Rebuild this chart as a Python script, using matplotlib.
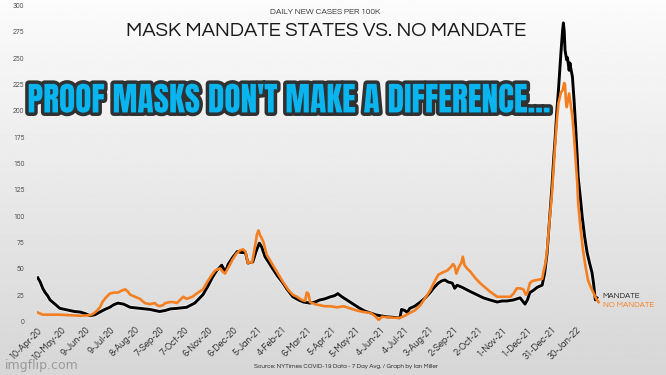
import matplotlib.pyplot as plt
import matplotlib.patheffects as pe
import numpy as np

# days since 10-Apr-20
mandate_days = [1, 4, 7, 10, 13, 16, 22, 28, 34, 40, 46, 53, 59, 65, 71, 77, 83, 89, 94, 99,
                106, 114, 120, 126, 132, 138, 144, 150, 157, 163, 171, 183, 193, 203, 209, 215,
                220, 226, 228, 230, 234, 239, 245, 250, 255, 258, 264, 268, 272, 275, 279, 284,
                288, 294, 300, 306, 313, 320, 326, 334, 340, 346, 352, 359, 364, 368, 373, 379,
                387, 395, 401, 408, 414, 420, 428, 436, 444, 446, 450, 453, 456, 462, 469, 475,
                481, 486, 491, 495, 499, 503, 508, 511, 514, 520, 525, 530, 538, 546, 554, 563,
                569, 575, 583, 591, 594, 597, 600, 603, 607, 612, 618, 621, 624, 626, 628, 630,
                632, 634, 636, 638, 639, 641, 643, 644, 645, 646, 648, 649, 651, 652, 653, 655,
                657, 659, 661, 662, 665, 667, 670, 673, 676, 679, 681, 683, 685]
mandate_vals = [41, 37, 31, 27, 24, 20, 16, 12, 11, 10, 9, 8.5, 7, 5, 6, 8.5, 11, 13, 15.5, 17,
                16, 13, 12.5, 12, 11.5, 11, 10, 9, 10, 11.5, 12, 13, 17, 25, 33, 42,
                48, 53, 50, 46, 54, 60, 66, 65, 65, 55, 56, 66, 74, 70, 61, 55,
                50, 43, 37, 30, 23, 20, 18, 17, 18, 20, 21, 23, 24, 26, 23, 20,
                16, 12, 9.5, 7.6, 6, 5, 4, 3.5, 3, 11, 10, 8, 12, 14, 18, 22,
                27, 32, 36, 38, 39, 37, 36, 31, 34, 32, 30, 28, 25, 22, 20, 18,
                19, 19, 20, 22, 19, 16, 20, 27, 29, 32, 34, 45, 64, 85, 105, 128,
                153, 175, 200, 220, 232, 255, 276, 283, 275, 257, 248, 250, 238, 245, 240, 232,
                210, 184, 155, 137, 115, 99, 80, 65, 55, 46, 35, 20, 22]

nomandate_days = [1, 4, 7, 10, 20, 28, 40, 53, 65, 69, 73, 77, 80, 84, 89, 94, 99, 104, 108, 111,
                  114, 120, 126, 132, 138, 144, 147, 150, 154, 157, 163, 167, 171, 175, 179, 183,
                  190, 197, 203, 209, 215, 218, 224, 227, 230, 235, 239, 244, 248, 252, 255, 258,
                  261, 263, 267, 269, 271, 273, 274, 277, 281, 287, 294, 301, 308, 313, 318, 324,
                  328, 330, 332, 334, 340, 346, 352, 359, 367, 375, 383, 391, 400, 408, 413, 418,
                  422, 430, 437, 444, 450, 456, 462, 469, 475, 481, 486, 491, 496, 502, 506, 509,
                  511, 513, 516, 519, 521, 523, 526, 530, 536, 542, 548, 554, 563, 571, 579, 583,
                  587, 591, 595, 598, 600, 603, 606, 612, 618, 620, 622, 624, 627, 630, 632, 634,
                  636, 638, 641, 643, 645, 646, 647, 648, 650, 651, 653, 655, 657, 659, 661, 662,
                  665, 668, 671, 674, 677, 680, 683, 685, 687]
nomandate_vals = [8, 7, 6, 6, 6, 6, 5.5, 5, 5.5, 7, 9.5, 13, 18, 22, 26, 27, 27, 29, 30, 28,
                  25, 23, 21, 17, 16, 17, 15, 14, 15, 17, 18, 18, 17, 20, 23, 21,
                  23, 27, 30, 38, 45, 48, 50, 47, 45, 52, 58, 64, 67, 68, 66, 55,
                  56, 55, 72, 82, 86, 81, 80, 75, 63, 55, 46, 37, 29, 25, 23, 20,
                  19, 27, 26, 18, 16, 15, 14, 14, 13, 14, 12, 10, 8.5, 7.6, 5, 1,
                  4, 3.5, 3, 3, 5, 7.6, 10, 15, 22, 29, 37, 44, 46, 48, 51, 54,
                  52, 45, 51, 55, 61, 53, 50, 47, 41, 36, 32, 28, 23, 23, 23, 26,
                  31, 31, 30, 25, 27, 36, 38, 39, 40, 48, 55, 67, 95, 121, 145, 169,
                  190, 207, 217, 219, 226, 224, 210, 203, 212, 216, 205, 194, 175, 153, 130, 112,
                  88, 67, 52, 39, 33, 28, 23, 20, 18]

tick_labels = ['10-Apr-20', '10-May-20', '9-Jun-20', '9-Jul-20', '8-Aug-20', '7-Sep-20',
               '7-Oct-20', '6-Nov-20', '6-Dec-20', '5-Jan-21', '4-Feb-21', '6-Mar-21',
               '5-Apr-21', '5-May-21', '4-Jun-21', '4-Jul-21', '3-Aug-21', '2-Sep-21',
               '2-Oct-21', '1-Nov-21', '1-Dec-21', '31-Dec-21', '30-Jan-22']
y_ticks = [0, 25, 50, 75, 100, 125, 150, 175, 200, 225, 250, 275, 300]

gothic = ['Questrial', 'Didact Gothic', 'Lato', 'DejaVu Sans']

fig = plt.figure(figsize=(6.66, 3.75), dpi=100)

# gradient background
bg = fig.add_axes([0, 0, 1, 1], zorder=-1)
grad = np.linspace(0.985, 0.84, 256).reshape(-1, 1)
bg.imshow(grad, aspect='auto', cmap='gray', vmin=0, vmax=1, extent=[0, 1, 0, 1])
bg.set_axis_off()

ax = fig.add_axes([37 / 666, 54 / 375, 573 / 666, 316 / 375])
ax.set_facecolor('none')
ax.plot(mandate_days, mandate_vals, color='black', lw=2.1, zorder=3,
        path_effects=[pe.Stroke(linewidth=3.3, foreground='white', alpha=0.6), pe.Normal()])
ax.plot(nomandate_days, nomandate_vals, color='#f47f20', lw=1.9, zorder=4)

ax.set_xlim(0, 701)
ax.set_ylim(0, 300)
ax.set_xticks([i * 30 for i in range(len(tick_labels))])
ax.set_xticklabels(tick_labels, rotation=45, ha='right', rotation_mode='anchor',
                   fontsize=6.6, color='#2a2a2a', family=gothic)
ax.set_yticks(y_ticks)
ax.set_yticklabels([str(v) for v in y_ticks], fontsize=5, color='#444444', family=gothic)
ax.tick_params(axis='both', length=0)
ax.tick_params(axis='y', pad=9)
ax.tick_params(axis='x', pad=3)
for s in ax.spines.values():
    s.set_visible(False)

ax.text(mandate_days[-1] + 7, 24, 'MANDATE', fontsize=5.8, color='#222222', va='center',
        family=gothic)
ax.text(mandate_days[-1] + 7, 15, 'NO MANDATE', fontsize=5.8, color='#f47f20', va='center',
        family=gothic)

fig.text(0.488, 0.968, 'DAILY NEW CASES PER 100K', ha='center', va='center',
         fontsize=6, color='#333333', family=gothic)
fig.text(0.49, 0.918, 'MASK MANDATE STATES VS. NO MANDATE', ha='center', va='center',
         fontsize=14.6, color='#1a1a1a', family=gothic)

fig.text(289 / 666, 1 - 100 / 375, "PROOF MASKS DON'T MAKE A DIFFERENCE...", ha='center',
         va='center', fontsize=24, fontweight='bold', color='#0ab4ef',
         family=['Anton', 'Oswald', 'Bebas Neue', 'Barlow Condensed', 'DejaVu Sans'],
         path_effects=[pe.Stroke(linewidth=5, foreground='black', alpha=0.8), pe.Normal()])

fig.text(0.52, 0.022, 'Source: NYTimes COVID-19 Data - 7 Day Avg. / Graph by Ian Miller',
         ha='center', va='center', fontsize=4.5, color='#222222', family=gothic)
fig.text(0.008, 0.025, 'imgflip.com', ha='left', va='center', fontsize=9, color='#9a9a9a')

fig.savefig('out.png', dpi=100)
